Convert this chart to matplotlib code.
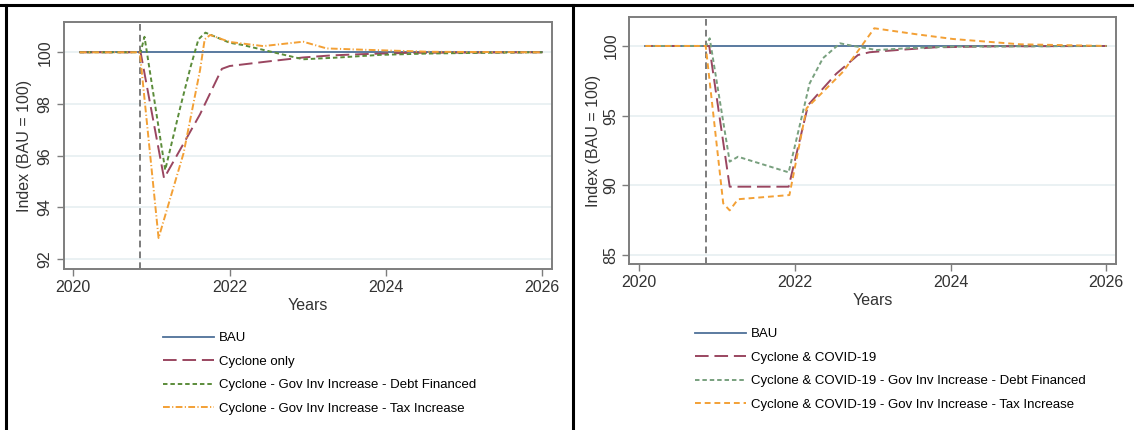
"""
Cyclone and Cyclone & COVID-19 scenarios vs BAU, two panels side by side.
"""

import matplotlib.pyplot as plt
from matplotlib.lines import Line2D

plt.rcParams["font.family"] = ["Liberation Sans", "DejaVu Sans"]

# ---- data: left panel (cyclone only) ----
l_bau_x = [2020.08, 2026.0]
l_bau_y = [100.0, 100.0]

l_cyc_x = [2020.08, 2020.86, 2021.16, 2021.62, 2021.9, 2022.0, 2022.5, 2022.94, 2023.3, 2023.71, 2024.3, 2026.0]
l_cyc_y = [100.0, 100.0, 95.13, 97.6, 99.36, 99.47, 99.65, 99.8, 99.88, 99.93, 99.98, 100.0]

l_debt_x = [2020.08, 2020.86, 2020.91, 2021.175, 2021.37, 2021.5, 2021.6, 2021.69, 2022.0, 2022.17,
            2022.56, 2022.94, 2023.4, 2023.92, 2024.5, 2025.2, 2026.0]
l_debt_y = [100.0, 100.0, 100.6, 95.45, 97.9, 99.44, 100.5, 100.76, 100.37, 100.28,
            100.0, 99.73, 99.8, 99.9, 99.95, 99.98, 100.0]

l_tax_x = [2020.08, 2020.85, 2021.09, 2021.41, 2021.62, 2021.68, 2021.75, 2022.0, 2022.43, 2022.94,
           2023.24, 2023.71, 2024.56, 2026.0]
l_tax_y = [100.0, 100.0, 92.82, 96.1, 99.3, 100.5, 100.67, 100.4, 100.24, 100.41,
           100.15, 100.1, 100.02, 100.0]

# ---- data: right panel (cyclone & COVID-19) ----
r_bau_x = [2020.08, 2026.0]
r_bau_y = [100.0, 100.0]

r_cyc_x = [2020.08, 2020.9, 2021.163, 2021.92, 2022.17, 2022.53, 2022.81, 2022.96, 2023.3, 2023.8, 2024.5, 2026.0]
r_cyc_y = [100.0, 100.0, 89.9, 89.9, 95.76, 98.0, 99.35, 99.55, 99.7, 99.9, 99.97, 100.0]

r_debt_x = [2020.08, 2020.86, 2020.906, 2021.163, 2021.27, 2021.92, 2022.19, 2022.36, 2022.58, 2022.75,
            2023.05, 2023.5, 2024.0, 2026.0]
r_debt_y = [100.0, 100.0, 100.55, 91.7, 92.05, 90.93, 97.32, 99.12, 100.19, 100.0,
            99.71, 99.85, 99.95, 100.0]

r_tax_x = [2020.08, 2020.855, 2021.08, 2021.163, 2021.27, 2021.93, 2022.15, 2022.36, 2022.62, 2023.02,
           2023.56, 2024.03, 2024.89, 2026.0]
r_tax_y = [100.0, 100.0, 88.7, 88.2, 89.0, 89.3, 95.53, 96.7, 98.16, 101.27,
           100.84, 100.5, 100.12, 100.0]

shock_year = 2020.855
x_ticks = [2020, 2022, 2024, 2026]
l_yticks = [92, 94, 96, 98, 100]
r_yticks = [85, 90, 95, 100]

l_labels = ["BAU", "Cyclone only",
            "Cyclone - Gov Inv Increase - Debt Financed",
            "Cyclone - Gov Inv Increase - Tax Increase"]
r_labels = ["BAU", "Cyclone & COVID-19",
            "Cyclone & COVID-19 - Gov Inv Increase - Debt Financed",
            "Cyclone & COVID-19 - Gov Inv Increase - Tax Increase"]

BLUE = "#4e7199"
RED = "#9a4660"
GREEN_L = "#5b8c3a"
GREEN_R = "#78a07e"
ORANGE = "#f3a035"
GRID = "#e8f0f2"
SPINE = "#7d7d7d"

W, H = 1134, 430
fig = plt.figure(figsize=(W / 100, H / 100), dpi=100)


def style_axes(ax, yticks, ylim, ylabel_x):
    ax.set_xlim(2019.875, 2026.12)
    ax.set_ylim(*ylim)
    ax.set_xticks(x_ticks)
    ax.set_yticks(yticks)
    ax.set_yticklabels([str(t) for t in yticks], rotation=90, va="center")
    ax.tick_params(axis="both", labelsize=11.5, colors="#333333", color=SPINE,
                   length=5, width=1.0, pad=3)
    for s in ax.spines.values():
        s.set_color(SPINE)
        s.set_linewidth(1.4)
    for t in yticks:
        ax.axhline(t, color=GRID, linewidth=1.3, zorder=0)
    ax.axvline(shock_year, color="#666666", linestyle=(0, (4, 2.5)), linewidth=1.2, zorder=1)
    ax.set_xlabel("Years", fontsize=11.5, color="#333333", labelpad=2)
    ax.set_ylabel("Index (BAU = 100)", fontsize=11.5, color="#333333")
    ax.yaxis.set_label_coords(ylabel_x, 0.5)


# left panel
ax1 = fig.add_axes([63.6 / W, 1 - 269.3 / H, 488.1 / W, 247.0 / H])
style_axes(ax1, l_yticks, (91.61, 101.16), -0.065)
h1 = [
    ax1.plot(l_bau_x, l_bau_y, color=BLUE, linewidth=1.3, zorder=3)[0],
    ax1.plot(l_cyc_x, l_cyc_y, color=RED, linewidth=1.4, linestyle=(0, (7, 3)), zorder=4)[0],
    ax1.plot(l_debt_x, l_debt_y, color=GREEN_L, linewidth=1.4, linestyle=(0, (2.3, 1.5)), zorder=5)[0],
    ax1.plot(l_tax_x, l_tax_y, color=ORANGE, linewidth=1.4, linestyle=(0, (3.5, 1.2, 0.6, 1.2)), zorder=6)[0],
]

# right panel
ax2 = fig.add_axes([629.4 / W, 1 - 264.3 / H, 486.3 / W, 247.6 / H])
style_axes(ax2, r_yticks, (84.33, 102.1), -0.059)
h2 = [
    ax2.plot(r_bau_x, r_bau_y, color=BLUE, linewidth=1.3, zorder=3)[0],
    ax2.plot(r_cyc_x, r_cyc_y, color=RED, linewidth=1.4, linestyle=(0, (7, 3)), zorder=4)[0],
    ax2.plot(r_debt_x, r_debt_y, color=GREEN_R, linewidth=1.4, linestyle=(0, (2.3, 1.5)), zorder=5)[0],
    ax2.plot(r_tax_x, r_tax_y, color=ORANGE, linewidth=1.4, linestyle=(0, (3, 2)), zorder=6)[0],
]

# legends below each panel
leg_kw = dict(frameon=False, fontsize=9.5, handlelength=3.9, handletextpad=0.35,
              labelspacing=0.85, borderpad=0, borderaxespad=0, loc="upper left")
fig.legend(h1, l_labels, bbox_to_anchor=(163 / W, 1 - 332 / H), **leg_kw)
fig.legend(h2, r_labels, bbox_to_anchor=(695 / W, 1 - 328 / H), **leg_kw)

# outer frame and divider
for (xs, ys) in [([0, 1], [1 - 5 / H, 1 - 5 / H]),
                 ([5.5 / W, 5.5 / W], [0, 1 - 5 / H]),
                 ([573 / W, 573 / W], [0, 1 - 5 / H])]:
    fig.add_artist(Line2D(xs, ys, color="black", linewidth=2.2, transform=fig.transFigure))

fig.savefig("out.png", dpi=100)
